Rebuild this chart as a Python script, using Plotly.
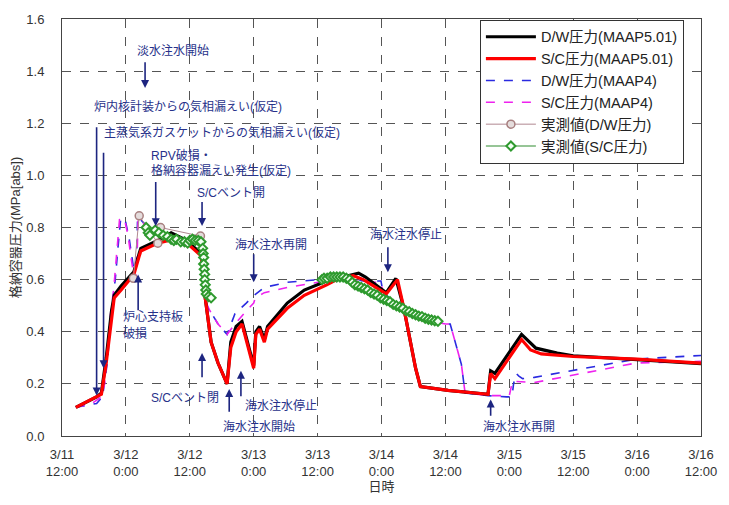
import plotly.graph_objects as go

# Time axis: hours elapsed since 3/11 12:00
tick_hours = [0, 12, 24, 36, 48, 60, 72, 84, 96, 108, 120]
tick_labels = ["3/11<br>12:00", "3/12<br>0:00", "3/12<br>12:00", "3/13<br>0:00",
               "3/13<br>12:00", "3/14<br>0:00", "3/14<br>12:00", "3/15<br>0:00",
               "3/15<br>12:00", "3/16<br>0:00", "3/16<br>12:00"]

# D/W pressure, MAAP5.01
dw5_t = [2.6, 4.5, 6.5, 7.4, 8.3, 9.3, 9.8, 11.1, 12.6, 13.5, 14.5, 14.8, 18.0, 20.5,
         23.0, 26.2, 26.9, 27.1, 28.0, 29.3, 31.0, 31.7, 32.7, 33.8, 36.0, 36.4, 37.1,
         38.0, 38.6, 42.3, 45.5, 49.7, 51.6, 55.7, 57.0, 60.9, 62.7, 64.2, 66.4, 67.3,
         72.5, 77.5, 80.0, 80.5, 81.3, 86.3, 89.0, 93.0, 96.0, 108.0, 120.0]
dw5_p = [0.11, 0.13, 0.15, 0.165, 0.30, 0.48, 0.54, 0.575, 0.61, 0.63, 0.70, 0.72, 0.75,
         0.78, 0.755, 0.70, 0.53, 0.50, 0.36, 0.28, 0.20, 0.36, 0.42, 0.44, 0.27, 0.40,
         0.42, 0.37, 0.42, 0.51, 0.56, 0.595, 0.605, 0.625, 0.61, 0.55, 0.605, 0.49, 0.26,
         0.19, 0.175, 0.165, 0.16, 0.25, 0.24, 0.39, 0.337, 0.318, 0.308, 0.293, 0.278]

# S/C pressure, MAAP5.01
sc5_t = [2.6, 4.5, 6.5, 7.4, 8.3, 9.3, 9.8, 11.1, 12.6, 13.5, 14.5, 14.8, 18.0, 21.0,
         23.2, 26.2, 26.9, 27.1, 28.0, 29.3, 31.0, 31.7, 32.7, 33.8, 36.0, 36.4, 37.1,
         38.0, 38.6, 42.3, 45.5, 49.7, 51.6, 54.7, 56.6, 60.9, 63.0, 64.2, 66.4, 67.3,
         72.5, 77.5, 80.0, 80.5, 81.3, 86.3, 88.0, 90.0, 96.0, 108.0, 120.0]
sc5_p = [0.11, 0.13, 0.15, 0.16, 0.28, 0.45, 0.53, 0.56, 0.60, 0.62, 0.69, 0.71, 0.74,
         0.755, 0.745, 0.69, 0.53, 0.50, 0.36, 0.28, 0.20, 0.34, 0.40, 0.43, 0.26, 0.39,
         0.41, 0.36, 0.41, 0.49, 0.54, 0.58, 0.60, 0.615, 0.60, 0.545, 0.60, 0.49, 0.26,
         0.19, 0.175, 0.165, 0.16, 0.24, 0.22, 0.37, 0.33, 0.315, 0.305, 0.295, 0.28]

# D/W pressure, MAAP4
dw4_t = [2.6, 6.5, 7.6, 8.5, 9.3, 10.0, 10.5, 11.0, 11.8, 12.6, 13.4, 13.9, 14.2, 15.5,
         17.0, 19.0, 22.0, 24.0, 26.2, 26.6, 26.9, 27.1, 27.5, 29.3, 31.0, 32.5, 34.6,
         36.1, 38.0, 42.3, 48.4, 54.0, 56.6, 59.9, 60.3, 64.0, 68.3, 72.0, 72.9, 75.0,
         75.7, 80.0, 83.5, 84.5, 84.8, 85.3, 85.8, 86.5, 88.7, 107.8, 120.8]
dw4_p = [0.11, 0.125, 0.15, 0.28, 0.48, 0.60, 0.72, 0.83, 0.835, 0.76, 0.65, 0.60, 0.84,
         0.815, 0.795, 0.78, 0.765, 0.76, 0.755, 0.70, 0.55, 0.51, 0.49, 0.43, 0.39, 0.47,
         0.51, 0.54, 0.57, 0.59, 0.60, 0.605, 0.595, 0.595, 0.55, 0.49, 0.445, 0.43, 0.43,
         0.275, 0.165, 0.155, 0.15, 0.15, 0.20, 0.24, 0.23, 0.22, 0.225, 0.295, 0.31]

# S/C pressure, MAAP4
sc4_t = [2.6, 5.6, 7.4, 8.0, 8.3, 9.0, 9.7, 10.2, 10.8, 11.7, 12.4, 13.0, 13.4, 13.6,
         14.0, 14.3, 15.5, 17.0, 19.0, 22.0, 24.0, 26.2, 26.6, 26.9, 27.1, 27.5, 29.3,
         31.0, 32.5, 34.6, 36.0, 36.3, 38.0, 42.3, 48.4, 51.0, 54.0, 56.6, 59.9, 60.3,
         64.0, 68.3, 72.0, 72.9, 75.0, 75.7, 80.0, 84.0, 84.6, 88.7, 107.8, 120.8]
sc4_p = [0.11, 0.125, 0.15, 0.20, 0.28, 0.45, 0.56, 0.69, 0.83, 0.835, 0.77, 0.68, 0.63,
         0.60, 0.62, 0.835, 0.81, 0.79, 0.775, 0.76, 0.755, 0.75, 0.70, 0.55, 0.51, 0.49,
         0.43, 0.39, 0.43, 0.48, 0.51, 0.53, 0.55, 0.57, 0.59, 0.60, 0.60, 0.59, 0.59,
         0.55, 0.49, 0.445, 0.43, 0.43, 0.275, 0.165, 0.155, 0.155, 0.21, 0.205, 0.28, 0.287]

# Measured D/W pressure
dw_meas_t = [13.4, 14.5, 18.0, 18.5, 26.0]
dw_meas_p = [0.605, 0.845, 0.74, 0.80, 0.767]

# Measured S/C pressure (None marks the gap between the two recorded periods)
sc_meas_t = [15.8, 16.2, 16.5, 17.5, 18.2, 19.0, 19.8, 20.5, 21.0, 21.5, 22.3, 23.0, 23.6,
             24.0, 24.5, 25.0, 25.6, 26.1, 26.4, 26.5, 26.6, 26.6, 26.7, 26.8, 26.8, 26.9,
             27.0, 27.1, 27.5, 28.0, None,
             48.8, 49.2, 49.8, 50.4, 51.0, 51.6, 52.2, 52.8, 53.4, 54.0, 54.5, 55.0, 55.6,
             56.2, 56.8, 57.4, 58.0, 58.6, 59.2, 59.8, 60.4, 61.0, 61.6, 62.2, 62.8, 63.4,
             64.0, 64.6, 65.2, 65.8, 66.4, 67.0, 67.6, 68.2, 68.8, 69.4, 70.0, 70.6]
sc_meas_p = [0.80, 0.78, 0.77, 0.79, 0.78, 0.77, 0.765, 0.755, 0.75, 0.755, 0.745, 0.745,
             0.74, 0.75, 0.755, 0.75, 0.75, 0.745, 0.72, 0.70, 0.685, 0.66, 0.64, 0.62,
             0.60, 0.58, 0.56, 0.545, 0.535, 0.53, None,
             0.60, 0.605, 0.605, 0.61, 0.61, 0.61, 0.61, 0.61, 0.605, 0.60, 0.59, 0.58,
             0.575, 0.57, 0.565, 0.56, 0.55, 0.545, 0.54, 0.53, 0.525, 0.52, 0.515, 0.505,
             0.50, 0.495, 0.49, 0.48, 0.477, 0.47, 0.465, 0.46, 0.458, 0.452, 0.448, 0.445,
             0.442, 0.44]

FONT = "Liberation Sans, Noto Sans CJK JP, sans-serif"
NAVY = "#27318a"

fig = go.Figure()

fig.add_trace(go.Scatter(x=dw4_t, y=dw4_p, mode="lines", name="D/W圧力(MAAP4)",
                         line=dict(color="#2a2ae0", width=1.6, dash="dash"), legendrank=3))
fig.add_trace(go.Scatter(x=sc4_t, y=sc4_p, mode="lines", name="S/C圧力(MAAP4)",
                         line=dict(color="#ee22ee", width=1.6, dash="dash"), legendrank=4))
fig.add_trace(go.Scatter(x=dw5_t, y=dw5_p, mode="lines", name="D/W圧力(MAAP5.01)",
                         line=dict(color="black", width=3.2), legendrank=1))
fig.add_trace(go.Scatter(x=sc5_t, y=sc5_p, mode="lines", name="S/C圧力(MAAP5.01)",
                         line=dict(color="#ff0000", width=3.2), legendrank=2))
fig.add_trace(go.Scatter(x=dw_meas_t, y=dw_meas_p, mode="lines+markers", name="実測値(D/W圧力)",
                         line=dict(color="#b08890", width=1),
                         marker=dict(symbol="circle", size=8, color="#e4dcdc",
                                     line=dict(color="#a88080", width=1.5)), legendrank=5))
fig.add_trace(go.Scatter(x=sc_meas_t, y=sc_meas_p, mode="lines+markers", name="実測値(S/C圧力)",
                         line=dict(color="#2e8b2e", width=1), connectgaps=False,
                         marker=dict(symbol="diamond", size=7, color="#f4fff4",
                                     line=dict(color="#2e9a2e", width=2)), legendrank=6))

# Event labels (x in hours, y in MPa)
labels = [
    ("淡水注水開始", 20.9, 1.479, "center"),
    ("炉内核計装からの気相漏えい(仮定)", 5.6, 1.263, "left"),
    ("主蒸気系ガスケットからの気相漏えい(仮定)", 7.6, 1.165, "left"),
    ("RPV破損・", 16.3, 1.078, "left"),
    ("格納容器漏えい発生(仮定)", 16.3, 1.017, "left"),
    ("S/Cベント開", 25.0, 0.934, "left"),
    ("海水注水再開", 32.1, 0.734, "left"),
    ("海水注水停止", 57.5, 0.772, "left"),
    ("炉心支持板", 11.1, 0.458, "left"),
    ("破損", 11.1, 0.393, "left"),
    ("S/Cベント閉", 16.3, 0.1475, "left"),
    ("海水注水開始", 29.9, 0.034, "left"),
    ("海水注水停止", 34.0, 0.117, "left"),
    ("海水注水再開", 78.7, 0.034, "left"),
]
for txt, lx, ly, anc in labels:
    fig.add_annotation(x=lx, y=ly, text=txt, showarrow=False, xanchor=anc, yanchor="middle",
                       font=dict(family=FONT, size=12, color=NAVY))

# Event arrows: (x, tip y, tail y)
arrows = [
    (15.6, 1.335, 1.44),
    (6.5, 0.155, 1.19),
    (7.8, 0.26, 1.093),
    (17.6, 0.805, 0.98),
    (26.3, 0.806, 0.904),
    (36.0, 0.59, 0.703),
    (61.2, 0.628, 0.73),
    (14.3, 0.62, 0.477),
    (26.3, 0.318, 0.22),
    (31.4, 0.18, 0.087),
    (33.6, 0.25, 0.147),
    (80.5, 0.14, 0.072),
]
for ax_h, tip, tail in arrows:
    fig.add_annotation(x=ax_h, y=tip, ax=ax_h, ay=tail, axref="x", ayref="y", text="",
                       showarrow=True, arrowhead=2, arrowsize=1, arrowwidth=1.6,
                       arrowcolor="#1d2580")

axis_common = dict(showline=True, linecolor="#444", linewidth=1, mirror=True,
                   showgrid=True, gridcolor="#555", griddash="dash", gridwidth=1,
                   zeroline=False, ticks="",
                   tickfont=dict(family=FONT, size=13, color="#333"))

fig.update_xaxes(range=[0, 120], tickvals=tick_hours, ticktext=tick_labels,
                 ticklabelstandoff=6,
                 title=dict(text="日時", font=dict(family=FONT, size=13, color="#333"), standoff=4),
                 **axis_common)
fig.update_yaxes(range=[0, 1.6], dtick=0.2, tickformat=".1f", ticklabelstandoff=14,
                 title=dict(text="格納容器圧力(MPa[abs])",
                            font=dict(family=FONT, size=13, color="#333"), standoff=2),
                 **axis_common)

fig.update_layout(
    width=729, height=505,
    margin=dict(l=62, r=20, t=13, b=69),
    paper_bgcolor="white", plot_bgcolor="white",
    font=dict(family=FONT, size=13, color="#333"),
    showlegend=True,
    legend=dict(x=0.654, y=0.998, xanchor="left", yanchor="top",
                bgcolor="white", bordercolor="#333", borderwidth=1,
                font=dict(family=FONT, size=14.5, color="#222"),
                itemwidth=50, tracegroupgap=0),
)

fig.write_html("out.html")
